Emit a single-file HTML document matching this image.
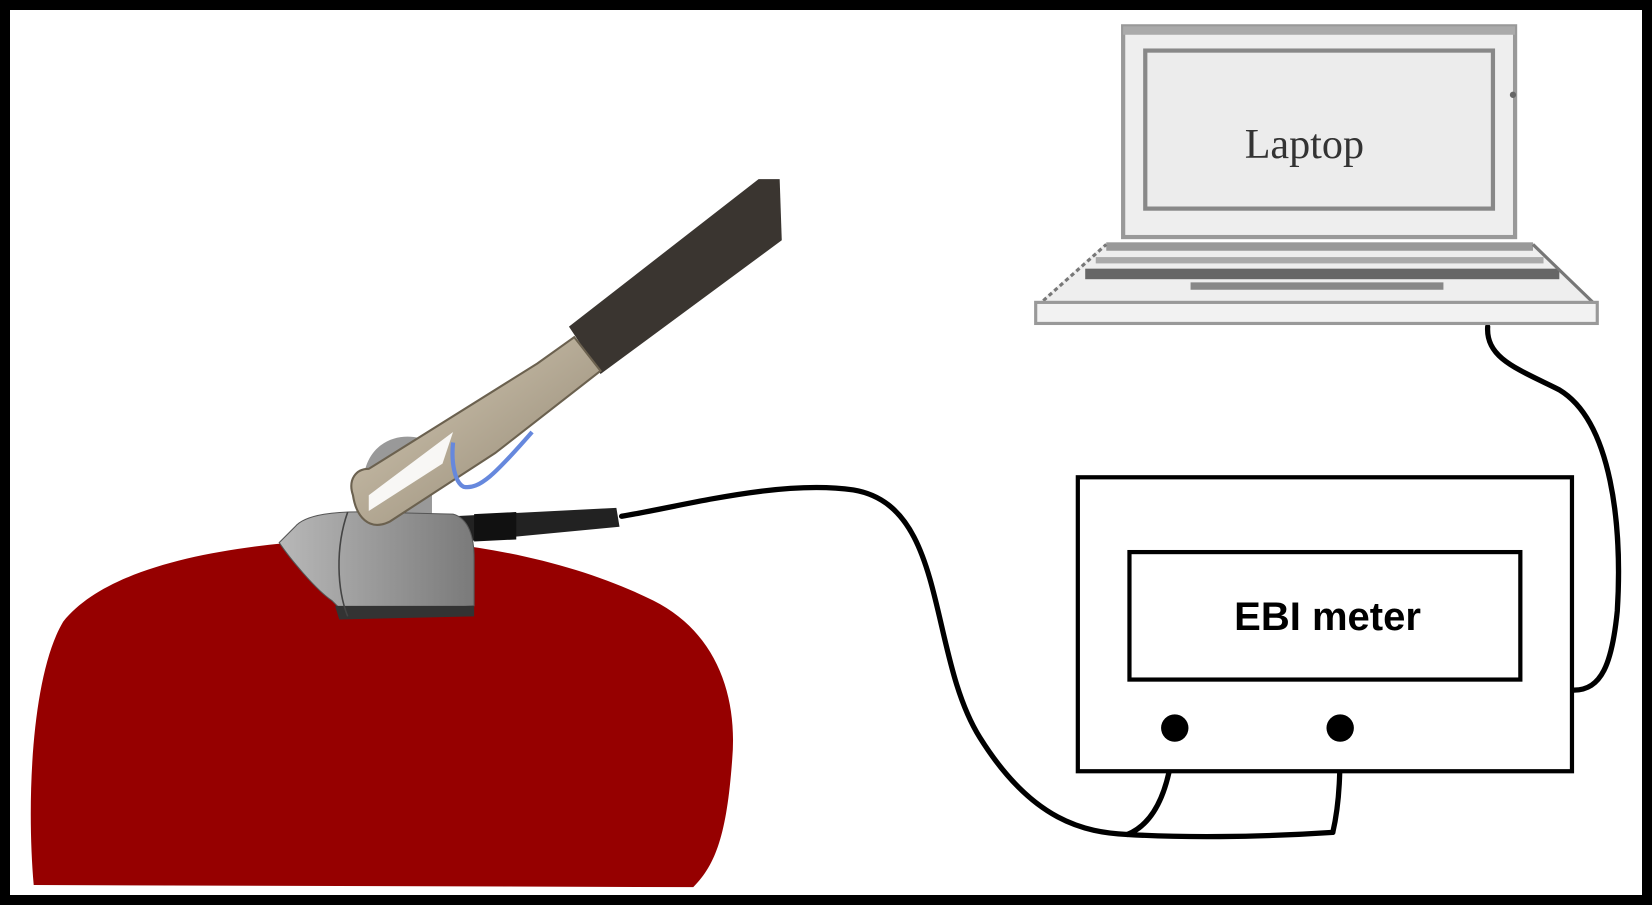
<!DOCTYPE html>
<html><head><meta charset="utf-8"><style>
html,body{margin:0;padding:0;background:#fff}
svg{display:block}
</style></head><body>
<svg width="1652" height="905" viewBox="0 0 1652 905" xmlns="http://www.w3.org/2000/svg">
<defs>
<linearGradient id="g1" x1="0" y1="0" x2="1" y2="0"><stop offset="0" stop-color="#b8b8b8"/><stop offset="1" stop-color="#7a7a7a"/></linearGradient>
<linearGradient id="g2" x1="0" y1="0" x2="1" y2="1"><stop offset="0" stop-color="#d8cdb8"/><stop offset="1" stop-color="#8f8470"/></linearGradient>
</defs>
<rect x="0" y="0" width="1652" height="905" fill="#fff"/>
<g transform="scale(1.0536)">
<!-- red blob -->
<path d="M32,840 C25,760 30,640 60,590 C100,540 200,520 300,513 C420,505 540,530 620,570 C680,600 700,660 695,720 C690,790 680,820 658,842 Z" fill="#960000"/>
<!-- cables -->
<g fill="none" stroke="#000" stroke-width="5" stroke-linecap="round">
<path d="M590,490 C650,480 740,455 810,465 C900,480 880,620 930,700 C980,780 1030,790 1070,792 C1120,795 1190,795 1265,790"/>
<path d="M1070,792 C1100,780 1112,740 1115,692"/>
<path d="M1265,790 C1272,760 1272,730 1272,692"/>
<path d="M1412,310 C1410,340 1440,350 1480,370 C1530,400 1540,500 1535,580 C1530,630 1520,655 1494,655"/>
</g>
<!-- laptop -->
<rect x="1066" y="25" width="372" height="200" fill="#eee" stroke="#999" stroke-width="4"/>
<rect x="1066" y="25" width="372" height="8" fill="#aaa"/>
<rect x="1087" y="48" width="330" height="150" fill="#ececec" stroke="#888" stroke-width="4"/>
<circle cx="1436" cy="90" r="3" fill="#666"/>
<text x="1238" y="150" text-anchor="middle" font-family="Liberation Serif, serif" font-size="40" fill="#333">Laptop</text>
<polygon points="1050,230 1455,230 1515,290 983,290" fill="#eee"/>
<rect x="1050" y="230" width="405" height="8" fill="#999"/>
<rect x="1040" y="244" width="425" height="6" fill="#aaa"/>
<rect x="1030" y="255" width="450" height="10" fill="#666"/>
<rect x="1130" y="268" width="240" height="7" fill="#888"/>
<line x1="985" y1="290" x2="1050" y2="232" stroke="#777" stroke-width="3" stroke-dasharray="4,3"/>
<line x1="1515" y1="290" x2="1455" y2="232" stroke="#777" stroke-width="3"/>
<rect x="983" y="287" width="533" height="20" fill="#f2f2f2" stroke="#999" stroke-width="3"/>
<!-- EBI meter -->
<rect x="1023" y="453" width="469" height="279" fill="#fff" stroke="#000" stroke-width="4"/>
<rect x="1072" y="524" width="371" height="121" fill="#fff" stroke="#000" stroke-width="4"/>
<text x="1260" y="598" text-anchor="middle" font-family="Liberation Sans, sans-serif" font-weight="bold" font-size="38" fill="#000">EBI meter</text>
<circle cx="1115" cy="691" r="13" fill="#000"/>
<circle cx="1272" cy="691" r="13" fill="#000"/>
<!-- probe -->
<path d="M345,470 C340,420 380,405 410,420 L410,500 L345,500 Z" fill="#999"/>
<polygon points="430,490 585,482 588,500 430,515" fill="#222"/>
<polygon points="450,488 490,486 490,512 450,514" fill="#111"/>
<path d="M280,500 C290,488 320,485 350,486 L430,488 C445,492 450,510 450,530 L450,575 L330,585 L315,570 C300,560 275,530 265,515 Z" fill="url(#g1)" stroke="#555" stroke-width="1"/>
<path d="M318,575 L450,575 L450,585 L322,588 Z" fill="#333"/>
<path d="M330,486 C318,520 320,560 330,585" fill="none" stroke="#444" stroke-width="1.5"/>
<path d="M540,310 L720,170 L740,170 L742,228 L570,355 Z" fill="#3a3530"/>
<path d="M335,470 C330,455 338,445 350,445 L510,345 L545,320 L570,352 L470,430 L370,495 C350,505 338,490 335,470 Z" fill="url(#g2)" stroke="#6b614f" stroke-width="2"/>
<path d="M350,470 L350,485 L420,440 L430,410 Z" fill="#fff" opacity="0.9"/>
<path d="M430,420 C428,440 432,458 440,462 C455,465 470,450 505,410" fill="none" stroke="#6688dd" stroke-width="4"/>
</g>
<rect x="5" y="5" width="1642" height="895" fill="none" stroke="#000" stroke-width="10"/>
</svg>
</body></html>
